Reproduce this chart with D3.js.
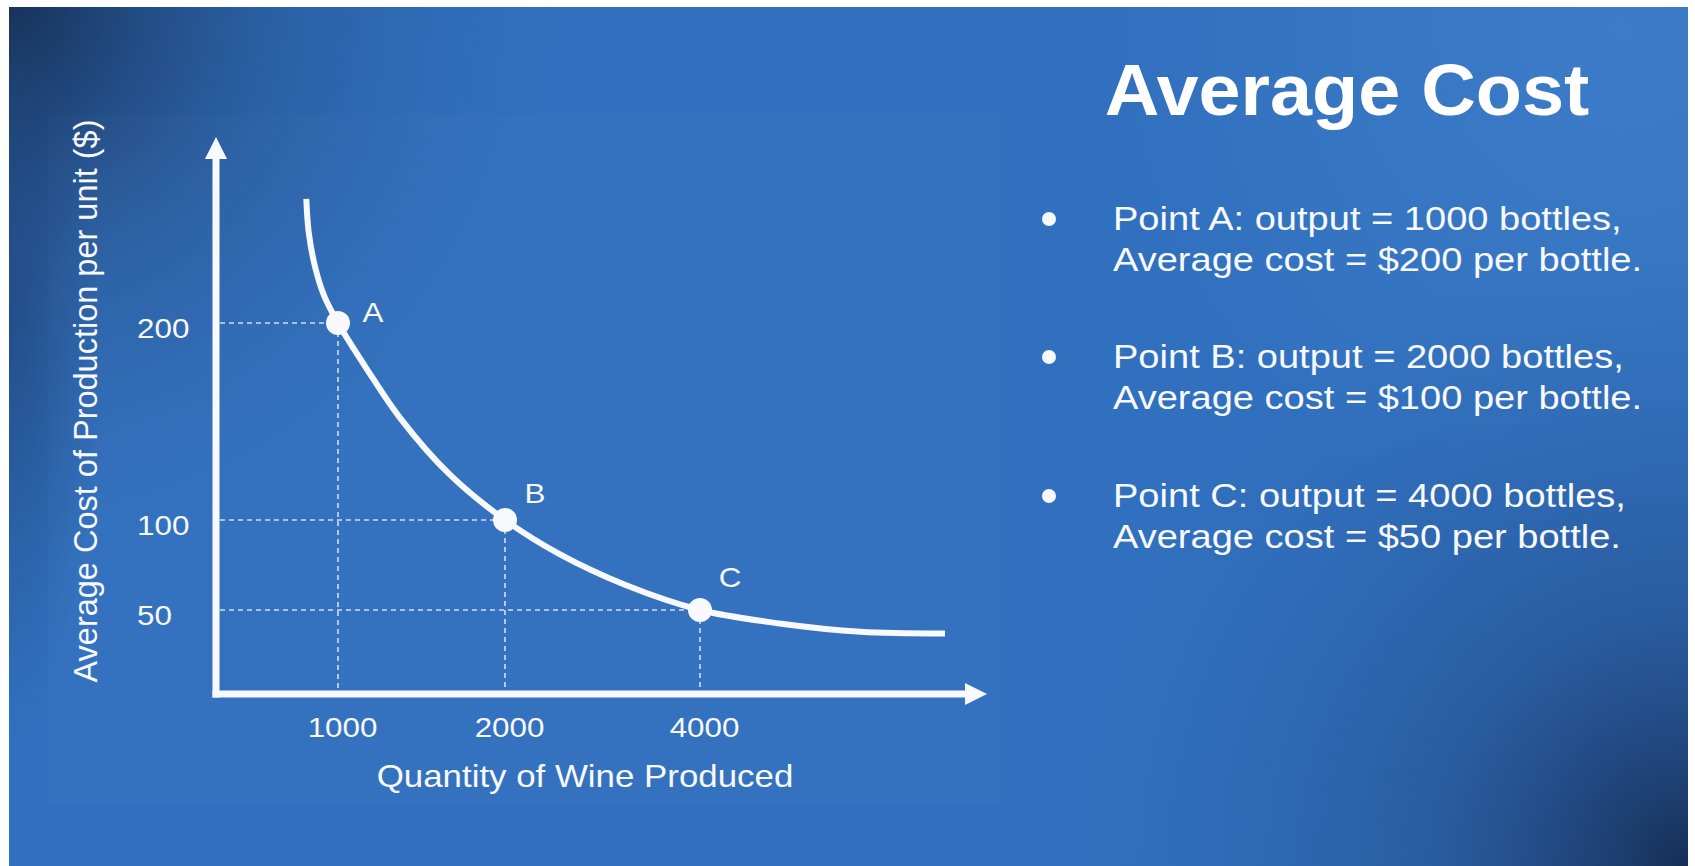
<!DOCTYPE html>
<html>
<head>
<meta charset="utf-8">
<script src="https://cdn.jsdelivr.net/npm/d3@7"></script>
<style>
  html, body { margin: 0; padding: 0; background: #ffffff; }
  svg { display: block; font-family: "Liberation Sans", Arial, Helvetica, sans-serif; }
</style>
</head>
<body>
<svg id="chart"></svg>
<script>
// ---- data -------------------------------------------------------------
const titleText = "Average Cost";
const xAxisTitle = "Quantity of Wine Produced";
const yAxisTitle = "Average Cost of Production per unit ($)";

const quantityTicks = [1000, 2000, 4000];
const costTicks = [200, 100, 50];

const pointNames = ["A", "B", "C"];
const pointQuantity = [1000, 2000, 4000];
const pointCost = [200, 100, 50];

// average-cost curve, quantity vs. cost per unit
const curveQuantity = [740, 760, 810, 885, 1000, 1170, 1370, 1670, 2000, 2560, 3230, 4000, 4650, 5310, 6000];
const curveCost = [263, 246, 229, 214, 200, 177, 152, 123, 100, 81, 64, 50, 42, 37, 36];

// ---- layout -----------------------------------------------------------
const W = 1695, H = 866;
const ink = "#f7f9fd";

const svg = d3.select("#chart").attr("width", W).attr("height", H);
const defs = svg.append("defs");

// schematic (piecewise) axes
const x = d3.scaleLinear().domain([0, 1000, 2000, 4000, 6000]).range([216, 338, 505, 700, 945]);
const y = d3.scaleLinear().domain([0, 50, 100, 200]).range([694, 610, 520, 323]);

// stretch text horizontally about its own x position
function stretch(sel, sx) {
  sel.each(function () {
    const t = d3.select(this);
    const x0 = +t.attr("x") || 0;
    t.attr("transform", `translate(${x0},0) scale(${sx},1) translate(${-x0},0)`);
  });
}

// ---- background -------------------------------------------------------
const bg = { x: 9, y: 7, w: 1679, h: 859 };

function radial(id, cx, cy, r, stops, transform) {
  const g = defs.append("radialGradient").attr("id", id)
    .attr("gradientUnits", "userSpaceOnUse")
    .attr("cx", cx).attr("cy", cy).attr("r", r);
  if (transform) g.attr("gradientTransform", transform);
  stops.forEach(s => g.append("stop").attr("offset", s[0]).attr("stop-color", s[1]).attr("stop-opacity", s[2]));
}
radial("cornerTL", 9, 7, 560, [[0, "#142a4c", 0.9], [0.45, "#1f4478", 0.4], [1, "#2a5fa6", 0]]);
radial("cornerBR", 1688, 866, 620, [[0, "#152b50", 0.95], [0.4, "#1f4278", 0.45], [1, "#2a5fa6", 0]]);
radial("glowTR", 1620, 30, 520, [[0, "#5a9ae0", 0.28], [1, "#5a9ae0", 0]]);
radial("leftEdge", 0, 0, 420, [[0, "#1c3d6e", 0.55], [1, "#1c3d6e", 0]], "translate(9,320) scale(0.22,1)");

const base = svg.append("g");
base.append("rect").attr("x", bg.x).attr("y", bg.y).attr("width", bg.w).attr("height", bg.h).attr("fill", "#3170be");
["glowTR", "cornerTL", "cornerBR", "leftEdge"].forEach(id =>
  base.append("rect").attr("x", bg.x).attr("y", bg.y).attr("width", bg.w).attr("height", bg.h).attr("fill", `url(#${id})`));
// faint panel behind the graph
base.append("rect").attr("x", 48).attr("y", 114).attr("width", 952).attr("height", 690)
  .attr("fill", "#ffffff").attr("opacity", 0.014);

// ---- graph ------------------------------------------------------------
const g = svg.append("g");
const x0 = x(0), y0 = y(0);

// guide lines from the axes to each point
const guides = g.append("g").attr("stroke", ink).attr("stroke-opacity", 0.8)
  .attr("stroke-width", 1.6).attr("stroke-dasharray", "5 4").attr("fill", "none");
pointQuantity.forEach((q, i) => {
  guides.append("line").attr("x1", x0 + 4).attr("x2", x(q)).attr("y1", y(pointCost[i])).attr("y2", y(pointCost[i]));
  guides.append("line").attr("x1", x(q)).attr("x2", x(q)).attr("y1", y(pointCost[i])).attr("y2", y0 - 4);
});

// axes with arrow heads
const axes = g.append("g").attr("fill", ink).attr("stroke", ink);
axes.append("line").attr("x1", x0).attr("x2", x0).attr("y1", y0 + 3.5).attr("y2", 156)
  .attr("stroke-width", 7);
axes.append("path").attr("stroke", "none")
  .attr("d", `M${x0},137 L${x0 + 11},159 L${x0 - 11},159 Z`);
axes.append("line").attr("x1", x0 - 3.5).attr("x2", 967).attr("y1", y0).attr("y2", y0)
  .attr("stroke-width", 7);
axes.append("path").attr("stroke", "none")
  .attr("d", `M987,${y0} L965,${y0 - 11} L965,${y0 + 11} Z`);

// the average-cost curve
const curvePts = curveQuantity.map((q, i) => [x(q), y(curveCost[i])]);
g.append("path").datum(curvePts)
  .attr("fill", "none").attr("stroke", ink).attr("stroke-width", 6).attr("stroke-linecap", "butt")
  .attr("d", d3.line().curve(d3.curveCatmullRom.alpha(0.5)));

// marked points
g.selectAll("circle.pt").data(pointQuantity).join("circle").attr("class", "pt")
  .attr("cx", d => x(d)).attr("cy", (d, i) => y(pointCost[i])).attr("r", 12).attr("fill", ink);

const labelOffsets = [[35, -1], [30, -17], [30, -23]];
const ptLabels = g.selectAll("text.ptlab").data(pointNames).join("text").attr("class", "ptlab")
  .attr("x", (d, i) => x(pointQuantity[i]) + labelOffsets[i][0])
  .attr("y", (d, i) => y(pointCost[i]) + labelOffsets[i][1])
  .attr("text-anchor", "middle").attr("font-size", 28).attr("fill", ink)
  .text(d => d);
stretch(ptLabels, 1.12);

// tick labels
const xAxis = g.append("g").attr("transform", `translate(0,${y0})`)
  .call(d3.axisBottom(x).tickValues(quantityTicks).tickSize(0).tickFormat(d3.format("d")));
xAxis.select(".domain").remove();
xAxis.selectAll("text").attr("y", 43).attr("dy", null).attr("x", 4)
  .attr("font-size", 28).attr("fill", ink).attr("font-family", null);
stretch(xAxis.selectAll("text"), 1.12);

const yAxis = g.append("g").attr("transform", `translate(${x0},0)`)
  .call(d3.axisLeft(y).tickValues(costTicks).tickSize(0).tickFormat(d3.format("d")));
yAxis.select(".domain").remove();
yAxis.selectAll("text").attr("x", -79).attr("dy", 14).attr("text-anchor", "start")
  .attr("font-size", 28).attr("fill", ink).attr("font-family", null);
stretch(yAxis.selectAll("text"), 1.12);

// axis titles
const xt = g.append("text").attr("x", 585).attr("y", 787).attr("text-anchor", "middle")
  .attr("font-size", 31).attr("fill", ink).text(xAxisTitle);
stretch(xt, 1.125);

g.append("text").attr("transform", "translate(97,401) rotate(-90)")
  .attr("text-anchor", "middle").attr("font-size", 32.5).attr("fill", ink).text(yAxisTitle);

// ---- title and notes --------------------------------------------------
const tt = svg.append("text").attr("x", 1347).attr("y", 115).attr("text-anchor", "middle")
  .attr("font-size", 72).attr("font-weight", "bold").attr("fill", "#ffffff").text(titleText);
stretch(tt, 1.05);

const notes = svg.append("g");
const blockTop = [230, 368, 507];
const lineGap = 41;
pointNames.forEach((name, i) => {
  const b = blockTop[i];
  notes.append("circle").attr("cx", 1049).attr("cy", b - 11).attr("r", 7).attr("fill", ink);
  const l1 = notes.append("text").attr("x", 1113).attr("y", b).attr("font-size", 33).attr("fill", ink)
    .text(`Point ${name}: output = ${pointQuantity[i]} bottles,`);
  const l2 = notes.append("text").attr("x", 1113).attr("y", b + lineGap).attr("font-size", 33).attr("fill", ink)
    .text(`Average cost = $${pointCost[i]} per bottle.`);
  stretch(l1, 1.153);
  stretch(l2, 1.153);
});
</script>
</body>
</html>
